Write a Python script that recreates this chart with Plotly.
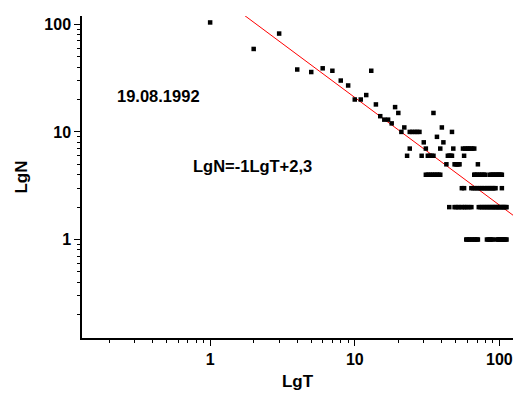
import math
import plotly.graph_objects as go

# ---- data (T = interval, N = count) ----
# dense rows at small N
t_at_n1 = [59, 60, 62, 63, 65, 67, 68, 70, 71, 82, 84, 86, 88, 90,
           96, 98, 100, 102, 104, 106, 108, 110, 112]
t_at_n2 = [45, 49, 50, 52, 53, 55, 57, 58, 60, 62, 64,
           72, 74, 76, 78, 80, 82, 84, 86, 88, 90, 92, 94, 96, 98, 100,
           102, 104, 106, 108, 110, 112]
t_at_n3 = [55, 57, 64, 66, 68, 70, 72, 74, 76, 78, 80, 82, 84, 86, 88,
           90, 92, 94, 104]
t_at_n4 = [31, 32, 33, 34, 35, 36, 37, 38, 39,
           67, 68, 70, 72, 74, 76, 78, 80,
           86, 88, 90, 92, 94, 96, 98, 100, 102, 104]
t_at_n5 = [43, 49, 50, 51, 52, 53, 71]
t_at_n6 = [23, 29, 32, 33, 34, 35, 44, 45, 46, 47, 57]
t_at_n7 = [24, 31, 39, 48, 56, 58, 60, 61, 63, 65, 67]
# remaining isolated points
sparse_t = [1, 2, 3, 4, 5, 6, 7, 8, 9, 10, 11, 12, 13, 14, 15, 16, 17, 18,
            19, 20, 21, 22, 24, 25, 26, 27, 28, 30, 35, 37, 40, 41, 47]
sparse_n = [104, 59, 82, 38, 36, 39, 37, 30, 27, 20, 20, 22, 37, 18, 14, 13,
            13, 12, 17, 15, 10, 11, 10, 10, 10, 10, 10, 8, 15, 9, 11, 8, 10]

# fitted line  LgN = -1 LgT + 2,3
fit_slope = -1.0
fit_intercept = 2.32
fit_t = [1.0, 200.0]

tick_vals = [1, 10, 100]
tick_text = ["1", "10", "100"]

rows = [(1, t_at_n1), (2, t_at_n2), (3, t_at_n3), (4, t_at_n4),
        (5, t_at_n5), (6, t_at_n6), (7, t_at_n7)]
all_t = list(sparse_t)
all_n = list(sparse_n)
for n, ts in rows:
    all_t += ts
    all_n += [n] * len(ts)

fit_n = [10 ** (fit_intercept + fit_slope * math.log10(t)) for t in fit_t]

FONT = "Arial, Liberation Sans, sans-serif"

fig = go.Figure()
fig.add_trace(go.Scatter(x=fit_t, y=fit_n, mode="lines",
                         line=dict(color="#ff0000", width=1),
                         hoverinfo="skip", showlegend=False))
fig.add_trace(go.Scatter(x=all_t, y=all_n, mode="markers",
                         marker=dict(symbol="square", size=4.5, color="black",
                                     line=dict(width=0)),
                         showlegend=False))

axis_common = dict(
    type="log", showgrid=False, zeroline=False,
    showline=True, linecolor="black", linewidth=1.5,
    ticks="outside", ticklen=6, tickwidth=1.2, tickcolor="black",
    tickmode="array", tickvals=tick_vals,
    ticktext=["<b>%s</b>" % t for t in tick_text],
    tickfont=dict(family=FONT, size=16, color="black"),
    minor=dict(ticks="outside", ticklen=3, tickwidth=1, tickcolor="black",
               dtick="D1", showgrid=False),
    mirror=False,
)

fig.update_layout(
    width=513, height=399,
    margin=dict(l=82, r=0, t=16, b=61),
    paper_bgcolor="white", plot_bgcolor="white",
    xaxis=dict(axis_common, range=[-0.886, 2.094],
               title=dict(text="<b>LgT</b>", standoff=8,
                          font=dict(family=FONT, size=17, color="black"))),
    yaxis=dict(axis_common, range=[-0.915, 2.077],
               title=dict(text="<b>LgN</b>", standoff=12,
                          font=dict(family=FONT, size=17, color="black"))),
    annotations=[
        dict(text="<b>19.08.1992</b>", xref="paper", yref="paper",
             x=(115 - 82) / 431, y=1 - (96 - 16) / 322, xanchor="left", yanchor="middle",
             showarrow=False,
             font=dict(family=FONT, size=16.5, color="black")),
        dict(text="<b>LgN=-1LgT+2,3</b>", xref="paper", yref="paper",
             x=(191 - 82) / 431, y=1 - (166 - 16) / 322, xanchor="left", yanchor="middle",
             showarrow=False,
             font=dict(family=FONT, size=16.5, color="black")),
    ],
)

fig.write_html("out.html")
